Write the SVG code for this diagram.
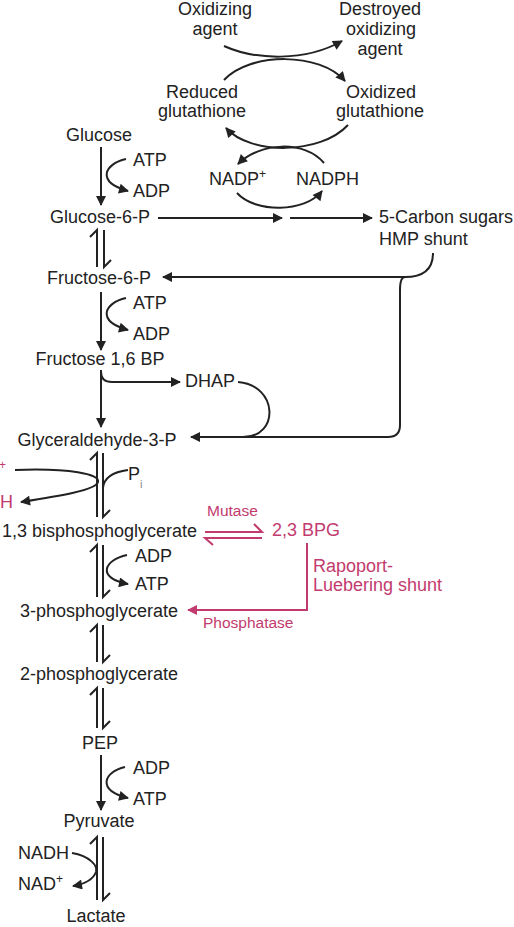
<svg xmlns="http://www.w3.org/2000/svg" width="514" height="927" viewBox="0 0 514 927">
<style>
text{font-family:"Liberation Sans",Arial,sans-serif;font-size:18px;fill:#222}
.c{text-anchor:middle}
.e{text-anchor:end}
.p{fill:#c23b6e}
.sm{font-size:15.5px}
.ln{fill:none;stroke:#222;stroke-width:2}
.pl{fill:none;stroke:#c23b6e;stroke-width:2}
</style>
<defs>
<marker id="ah" viewBox="0 0 10 10" refX="9" refY="5" markerUnits="userSpaceOnUse" markerWidth="12" markerHeight="10" orient="auto">
<path d="M0,0 L10,5 L0,10 z" fill="#222"/>
</marker>
<marker id="ahp" viewBox="0 0 10 10" refX="9" refY="5" markerUnits="userSpaceOnUse" markerWidth="12" markerHeight="10" orient="auto">
<path d="M0,0 L10,5 L0,10 z" fill="#c23b6e"/>
</marker>
</defs>
<rect width="514" height="927" fill="#fff"/>

<g id="connectors">
<path class="ln" d="M224,46 C255,60 305,62 342,41" marker-end="url(#ah)"/>
<path class="ln" d="M224,80 C250,52 320,52 345,81" marker-end="url(#ah)"/>
<path class="ln" d="M348,125 C320,155 250,155 226,128" marker-end="url(#ah)"/>
<path class="ln" d="M324,163 C305,140 260,142 238,164" marker-end="url(#ah)"/>
<path class="ln" d="M237,193 C255,213 305,213 322,191" marker-end="url(#ah)"/>
<path class="ln" d="M101,147 V205" marker-end="url(#ah)"/>
<path class="ln" d="M126,159 C104,164 96,182 128,191" marker-end="url(#ah)"/>
<path class="ln" d="M158,218 H282" marker-end="url(#ah)"/>
<path class="ln" d="M290,218 H372" marker-end="url(#ah)"/>
<path class="ln" d="M433,253 C433,272 420,277 405,277"/>
<path class="ln" d="M405,277 H163" marker-end="url(#ah)"/>
<path class="ln" d="M405,277 Q400,277 400,290 V425 Q400,437 388,437 H191" marker-end="url(#ah)"/>
<path class="ln" d="M97,267 V230 L90,237"/>
<path class="ln" d="M104,230 V267 L111,260"/>
<path class="ln" d="M101,292 V350" marker-end="url(#ah)"/>
<path class="ln" d="M126,298 C104,303 96,321 128,330" marker-end="url(#ah)"/>
<path class="ln" d="M101,370 V427" marker-end="url(#ah)"/>
<path class="ln" d="M101,372 Q101,382 112,382 H180" marker-end="url(#ah)"/>
<path class="ln" d="M238,382 C278,385 280,437 243,437"/>
<path class="ln" d="M97,517 V453 L90,460"/>
<path class="ln" d="M103,453 V517 L110,510"/>
<path class="ln" d="M15,470 C70,468 100,474 98,482 C96,490 60,496 21,502" marker-end="url(#ah)"/>
<path class="ln" d="M128,470 C112,472 104,478 103,488"/>
<path class="pl" d="M205,532 H262 L254,524"/>
<path class="pl" d="M262,538 H205 L213,545"/>
<path class="pl" d="M307,543 V610 H188" marker-end="url(#ahp)"/>
<path class="ln" d="M97,597 V545 L90,552"/>
<path class="ln" d="M103,545 V597 L110,590"/>
<path class="ln" d="M127,555 C104,560 96,578 128,584" marker-end="url(#ah)"/>
<path class="ln" d="M97,662 V625 L90,632"/>
<path class="ln" d="M103,625 V662 L110,655"/>
<path class="ln" d="M97,728 V688 L90,695"/>
<path class="ln" d="M103,688 V728 L110,721"/>
<path class="ln" d="M101,755 V810" marker-end="url(#ah)"/>
<path class="ln" d="M125,767 C104,772 96,790 128,798" marker-end="url(#ah)"/>
<path class="ln" d="M97,900 V837 L90,844"/>
<path class="ln" d="M103,837 V900 L110,893"/>
<path class="ln" d="M72,853 C90,856 98,866 96,872 C93,880 85,884 73,886" marker-end="url(#ah)"/>
</g>

<g id="oxidizing-agent"><text class="c" x="215" y="15">Oxidizing</text><text class="c" x="215" y="35">agent</text></g>
<g id="destroyed-oxidizing-agent"><text class="c" x="380" y="15">Destroyed</text><text class="c" x="381" y="35">oxidizing</text><text class="c" x="380" y="55">agent</text></g>
<g id="reduced-glutathione"><text class="c" x="202" y="98">Reduced</text><text class="c" x="202" y="117">glutathione</text></g>
<g id="oxidized-glutathione"><text class="c" x="381" y="98">Oxidized</text><text class="c" x="380" y="117">glutathione</text></g>
<g id="nadp"><text x="209" y="185">NADP<tspan font-size="12" dy="-7">+</tspan></text></g>
<g id="nadph"><text x="296" y="185">NADPH</text></g>
<g id="glucose"><text class="c" x="99" y="141">Glucose</text></g>
<g id="atp1"><text x="133" y="166">ATP</text></g>
<g id="adp1"><text x="133" y="197">ADP</text></g>
<g id="glucose-6-p"><text class="c" x="100" y="223">Glucose-6-P</text></g>
<g id="hmp"><text x="379" y="223">5-Carbon sugars</text><text x="379" y="245">HMP shunt</text></g>
<g id="fructose-6-p"><text class="c" x="99" y="284">Fructose-6-P</text></g>
<g id="atp2"><text x="133" y="309">ATP</text></g>
<g id="adp2"><text x="133" y="340">ADP</text></g>
<g id="fructose-16-bp"><text class="c" x="100" y="365">Fructose 1,6 BP</text></g>
<g id="dhap"><text x="185" y="387">DHAP</text></g>
<g id="glyceraldehyde-3-p"><text class="c" x="97" y="446">Glyceraldehyde-3-P</text></g>
<g id="pi"><text x="128" y="480">P<tspan font-size="11" dy="8" fill="#888">i</tspan></text></g>
<g id="nad-plus-cut"><text class="e p" x="6" y="476">NAD<tspan font-size="12" dy="-7">+</tspan></text></g>
<g id="nadh-cut"><text class="e p" x="13" y="508">NADH</text></g>
<g id="bpg13"><text x="2" y="537">1,3 bisphosphoglycerate</text></g>
<g id="mutase"><text class="p sm" x="207" y="516">Mutase</text></g>
<g id="bpg23"><text class="p" x="272" y="536">2,3 BPG</text></g>
<g id="rapoport"><text class="p" x="313" y="572">Rapoport-</text><text class="p" x="313" y="591">Luebering shunt</text></g>
<g id="phosphatase"><text class="p sm" x="203" y="628">Phosphatase</text></g>
<g id="adp3"><text x="135" y="562">ADP</text></g>
<g id="atp3"><text x="135" y="590">ATP</text></g>
<g id="pg3"><text class="c" x="99" y="617">3-phosphoglycerate</text></g>
<g id="pg2"><text class="c" x="99" y="680">2-phosphoglycerate</text></g>
<g id="pep"><text class="c" x="100" y="749">PEP</text></g>
<g id="adp4"><text x="133" y="774">ADP</text></g>
<g id="atp4"><text x="133" y="805">ATP</text></g>
<g id="pyruvate"><text class="c" x="99" y="827">Pyruvate</text></g>
<g id="nadh"><text x="18" y="859">NADH</text></g>
<g id="nad"><text x="18" y="890">NAD<tspan font-size="12" dy="-7">+</tspan></text></g>
<g id="lactate"><text class="c" x="96" y="922">Lactate</text></g>
</svg>
